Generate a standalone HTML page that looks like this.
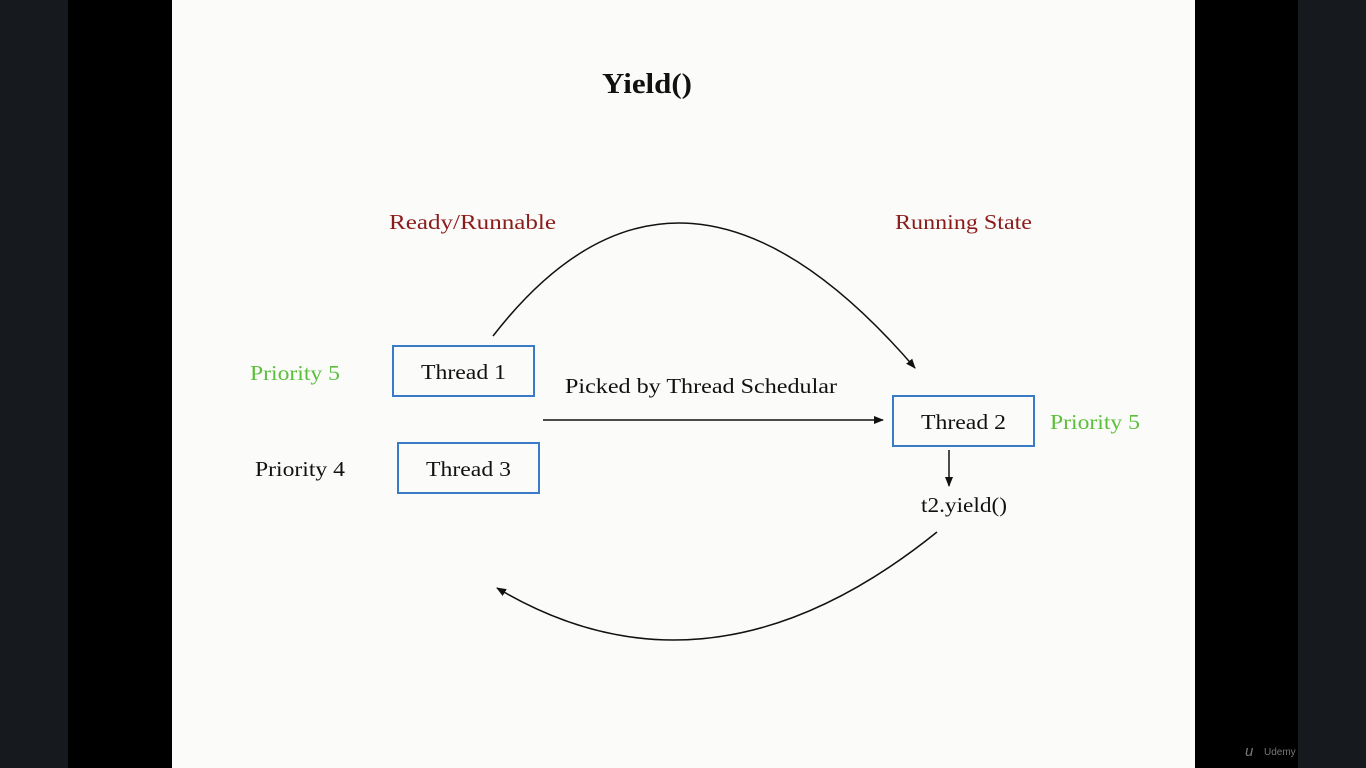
<!DOCTYPE html>
<html><head><meta charset="utf-8"><style>
html,body{margin:0;padding:0;width:1366px;height:768px;overflow:hidden;background:#000}
svg{display:block}
text{font-family:"Liberation Serif",serif}
</style></head><body>
<svg width="1366" height="768" viewBox="0 0 1366 768">
<defs><marker id="a" markerWidth="10" markerHeight="10" refX="9" refY="5" orient="auto" markerUnits="userSpaceOnUse"><path d="M0,1 L10,5 L0,9 Z" fill="#111"/></marker></defs>
<rect x="0" y="0" width="68" height="768" fill="#161a1f"/>
<rect x="1298" y="0" width="68" height="768" fill="#161a1f"/>
<rect x="172" y="0" width="1023" height="768" fill="#fbfbf9"/>
<text x="1245" y="756" font-size="15" font-style="italic" fill="#777" style="font-family:'Liberation Sans',sans-serif">u</text>
<text x="1264" y="755" font-size="10" fill="#777" style="font-family:'Liberation Sans',sans-serif">Udemy</text>
<text x="602" y="93" font-size="28" font-weight="bold" fill="#111" textLength="90" lengthAdjust="spacingAndGlyphs">Yield()</text>
<text x="389" y="229" font-size="21" fill="#8b1c1c" textLength="167" lengthAdjust="spacingAndGlyphs">Ready/Runnable</text>
<text x="895" y="229" font-size="21" fill="#8b1c1c" textLength="137" lengthAdjust="spacingAndGlyphs">Running State</text>
<text x="250" y="380" font-size="21" fill="#5cbf3c" textLength="90" lengthAdjust="spacingAndGlyphs">Priority 5</text>
<text x="255" y="476" font-size="21" fill="#111" textLength="90" lengthAdjust="spacingAndGlyphs">Priority 4</text>
<text x="1050" y="429" font-size="21" fill="#5cbf3c" textLength="90" lengthAdjust="spacingAndGlyphs">Priority 5</text>
<rect x="393" y="346" width="141" height="50" fill="none" stroke="#3a7bc8" stroke-width="2"/>
<text x="421" y="379" font-size="21" fill="#111" textLength="85" lengthAdjust="spacingAndGlyphs">Thread 1</text>
<rect x="398" y="443" width="141" height="50" fill="none" stroke="#3a7bc8" stroke-width="2"/>
<text x="426" y="476" font-size="21" fill="#111" textLength="85" lengthAdjust="spacingAndGlyphs">Thread 3</text>
<rect x="893" y="396" width="141" height="50" fill="none" stroke="#3a7bc8" stroke-width="2"/>
<text x="921" y="429" font-size="21" fill="#111" textLength="85" lengthAdjust="spacingAndGlyphs">Thread 2</text>
<text x="565" y="393" font-size="21" fill="#111" textLength="272" lengthAdjust="spacingAndGlyphs">Picked by Thread Schedular</text>
<text x="921" y="512" font-size="21" fill="#111" textLength="86" lengthAdjust="spacingAndGlyphs">t2.yield()</text>
<line x1="543" y1="420" x2="883" y2="420" stroke="#111" stroke-width="1.5" marker-end="url(#a)"/>
<line x1="949" y1="450" x2="949" y2="486" stroke="#111" stroke-width="1.5" marker-end="url(#a)"/>
<path d="M493,336 Q680,95 915,368" fill="none" stroke="#111" stroke-width="1.5" marker-end="url(#a)"/>
<path d="M937,532 Q710,715 497,588" fill="none" stroke="#111" stroke-width="1.5" marker-end="url(#a)"/>
</svg>
</body></html>
